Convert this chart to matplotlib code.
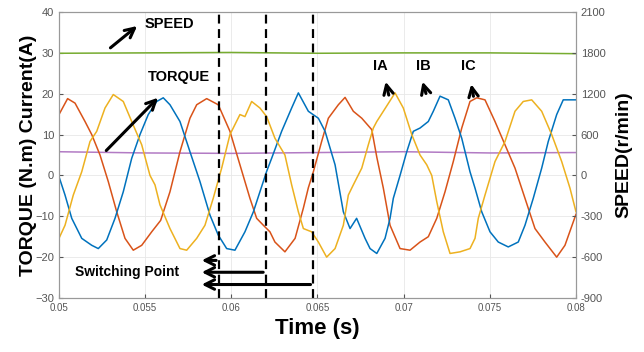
import matplotlib.pyplot as plt

plt.rcParams['font.family'] = ['Liberation Sans', 'DejaVu Sans']

# phase current IA (orange)
t_a = [0.05000, 0.05050, 0.05093, 0.05151, 0.05190, 0.05238, 0.05286, 0.05335, 0.05383, 0.05431,
       0.05480, 0.05538, 0.05590, 0.05644, 0.05702, 0.05760, 0.05799, 0.05857, 0.05924, 0.05992,
       0.06050, 0.06108, 0.06147, 0.06186, 0.06224, 0.06253, 0.06311, 0.06370, 0.06418, 0.06447,
       0.06476, 0.06524, 0.06563, 0.06621, 0.06660, 0.06708, 0.06757, 0.06815, 0.06844, 0.06882,
       0.06921, 0.06979, 0.07037, 0.07095, 0.07143, 0.07192, 0.07240, 0.07288, 0.07337, 0.07385,
       0.07424, 0.07472, 0.07530, 0.07588, 0.07646, 0.07704, 0.07762, 0.07820, 0.07888, 0.07936,
       0.08000]
i_a = [14.9, 18.8, 17.7, 13.2, 10.0, 5.0, -1.5, -8.9, -15.4, -18.3,
       -17.1, -13.8, -11.0, -4.0, 5.8, 14.0, 17.3, 18.8, 17.3, 10.8,
       2.6, -5.6, -10.5, -12.2, -13.8, -16.3, -18.7, -15.4, -8.0, -3.0,
       0.9, 8.3, 14.0, 17.3, 19.1, 15.7, 14.0, 11.2, 4.5, -3.1,
       -12.2, -17.9, -18.3, -16.3, -15.0, -10.5, -4.0, 3.4, 11.6, 18.1,
       19.0, 18.5, 13.2, 7.5, 1.8, -5.6, -13.0, -16.3, -20.0, -17.1,
       -9.5]

# phase current IB (blue)
t_b = [0.05000, 0.05035, 0.05074, 0.05132, 0.05190, 0.05228, 0.05277, 0.05325, 0.05373, 0.05422,
       0.05470, 0.05518, 0.05567, 0.05605, 0.05644, 0.05702, 0.05760, 0.05818, 0.05876, 0.05924,
       0.05973, 0.06021, 0.06079, 0.06128, 0.06166, 0.06205, 0.06234, 0.06292, 0.06350, 0.06389,
       0.06447, 0.06505, 0.06544, 0.06602, 0.06650, 0.06689, 0.06727, 0.06776, 0.06805, 0.06844,
       0.06892, 0.06921, 0.06940, 0.06979, 0.07018, 0.07056, 0.07095, 0.07143, 0.07172, 0.07211,
       0.07259, 0.07298, 0.07337, 0.07385, 0.07414, 0.07453, 0.07501, 0.07549, 0.07607, 0.07665,
       0.07704, 0.07752, 0.07801, 0.07839, 0.07888, 0.07926, 0.08000]
i_b = [-0.3, -4.8, -10.5, -15.4, -17.1, -17.9, -15.8, -10.5, -4.0, 4.2,
       10.0, 14.9, 18.1, 19.0, 17.3, 13.2, 5.8, -1.5, -9.7, -14.6,
       -17.9, -18.3, -13.8, -8.9, -4.0, 1.0, 4.2, 10.8, 16.5, 20.2,
       15.7, 14.0, 10.8, 2.6, -8.9, -13.0, -10.5, -15.4, -17.9, -19.1,
       -15.4, -10.5, -5.6, 0.0, 5.8, 10.8, 11.6, 13.2, 15.7, 19.4,
       18.5, 14.0, 9.1, 0.9, -3.1, -8.9, -13.8, -16.3, -17.5, -16.3,
       -12.2, -5.6, 1.8, 8.3, 14.9, 18.5, 18.5]

# phase current IC (yellow)
t_c = [0.05000, 0.05035, 0.05083, 0.05132, 0.05180, 0.05219, 0.05267, 0.05315, 0.05373, 0.05422,
       0.05480, 0.05528, 0.05557, 0.05586, 0.05644, 0.05702, 0.05741, 0.05799, 0.05847, 0.05895,
       0.05944, 0.05992, 0.06050, 0.06079, 0.06118, 0.06166, 0.06205, 0.06253, 0.06311, 0.06350,
       0.06389, 0.06418, 0.06466, 0.06505, 0.06553, 0.06602, 0.06650, 0.06679, 0.06708, 0.06757,
       0.06795, 0.06824, 0.06844, 0.06882, 0.06950, 0.06998, 0.07047, 0.07095, 0.07134, 0.07163,
       0.07192, 0.07230, 0.07269, 0.07327, 0.07385, 0.07414, 0.07433, 0.07472, 0.07530, 0.07588,
       0.07646, 0.07694, 0.07743, 0.07801, 0.07859, 0.07917, 0.07965, 0.08000]
i_c = [-15.4, -12.2, -4.8, 0.9, 8.3, 10.8, 16.5, 19.8, 18.1, 13.2,
       7.5, 0.0, -2.3, -7.2, -13.0, -17.9, -18.3, -15.4, -12.2, -5.6,
       1.8, 10.0, 14.9, 14.4, 18.1, 16.5, 14.4, 9.1, 5.0, -2.3,
       -8.9, -13.0, -13.8, -16.3, -20.0, -17.9, -12.2, -4.8, -2.3, 1.8,
       7.5, 11.6, 13.2, 15.7, 20.2, 16.5, 10.0, 5.0, 2.6, 0.0,
       -6.4, -13.8, -19.1, -18.7, -17.9, -15.4, -10.5, -4.8, 3.4, 8.3,
       15.7, 18.1, 18.5, 15.7, 10.0, 3.4, -3.1, -8.9]

# torque and speed (speed plotted on left scale, 30 <-> 1800 r/min)
t_flat = [0.050, 0.055, 0.060, 0.065, 0.070, 0.075, 0.080]
torque = [5.8, 5.5, 5.4, 5.6, 5.8, 5.5, 5.6]
speed = [29.9, 30.0, 30.1, 29.9, 30.0, 30.0, 29.8]

switch_t = [0.05928, 0.06201, 0.06476]
switch_y = [-20.8, -23.7, -26.7]

left_ticks = [-30, -20, -10, 0, 10, 20, 30, 40]
right_labels = ['-900', '-600', '-300', '0', '600', '1200', '1800', '2100']
x_ticks = [0.05, 0.055, 0.06, 0.065, 0.07, 0.075, 0.08]
x_labels = ['0.05', '0.055', '0.06', '0.065', '0.07', '0.075', '0.08']

fig = plt.figure(figsize=(6.44, 3.52), dpi=100)
ax = fig.add_axes([0.0916, 0.1534, 0.8028, 0.8125])

ax.plot(t_flat, speed, color='#77AC30', lw=1.1)
ax.plot(t_flat, torque, color='#B27BC4', lw=1.1)
ax.plot(t_a, i_a, color='#D95319', lw=1.1)
ax.plot(t_b, i_b, color='#0072BD', lw=1.1)
ax.plot(t_c, i_c, color='#EDB120', lw=1.1)

# switching points
for t in switch_t:
    ax.axvline(t, color='black', lw=1.6, linestyle=(0, (4, 2.5)), zorder=5)
for t, y in zip(switch_t, switch_y):
    ax.annotate('', xy=(0.05812, y), xytext=(t, y),
                arrowprops=dict(arrowstyle='->', lw=2.2, color='black', mutation_scale=17), zorder=6)
ax.text(0.05093, -23.7, 'Switching Point', fontsize=10, fontweight='bold', va='center', ha='left')

# labels with arrows
arr = dict(arrowstyle='->', lw=2.2, color='black', mutation_scale=17)
ax.annotate('', xy=(0.05466, 37.0), xytext=(0.05286, 30.8), arrowprops=arr)
ax.text(0.05499, 37.0, 'SPEED', fontsize=10.5, fontweight='bold', va='center', ha='left')
ax.annotate('', xy=(0.05586, 19.5), xytext=(0.05263, 5.6), arrowprops=arr)
ax.text(0.05516, 24.0, 'TORQUE', fontsize=10.5, fontweight='bold', va='center', ha='left')
for name, tx, head, tail in [('IA', 0.06863, (0.06892, 23.6), (0.06917, 19.0)),
                             ('IB', 0.07114, (0.07105, 23.6), (0.07134, 19.4)),
                             ('IC', 0.07375, (0.07389, 23.0), (0.07408, 18.7))]:
    ax.annotate('', xy=head, xytext=tail, arrowprops=arr)
    ax.text(tx, 26.7, name, fontsize=10.5, fontweight='bold', va='center', ha='center')

ax.set_xlim(0.05, 0.08)
ax.set_ylim(-30, 40)
ax.set_xticks(x_ticks)
ax.set_xticklabels(x_labels)
ax.set_yticks(left_ticks)
ax.grid(True, color='#e8e8e8', lw=0.6)
ax.set_axisbelow(True)
ax.tick_params(direction='in', length=3, colors='#555555', labelsize=8)
ax.tick_params(axis='x', labelsize=7)
for s in ax.spines.values():
    s.set_color('#999999')

ax.set_ylabel('TORQUE (N.m) Current(A)', fontsize=14, fontweight='bold', labelpad=-1)
ax.set_xlabel('Time (s)', fontsize=16, fontweight='bold', labelpad=4)

ax2 = ax.twinx()
ax2.set_ylim(-30, 40)
ax2.set_yticks(left_ticks)
ax2.set_yticklabels(right_labels)
ax2.tick_params(direction='in', length=3, colors='#555555', labelsize=8)
for s in ax2.spines.values():
    s.set_color('#999999')
ax2.set_ylabel('SPEED(r/min)', fontsize=14, fontweight='bold', labelpad=7)

fig.savefig('out.png', dpi=100)
